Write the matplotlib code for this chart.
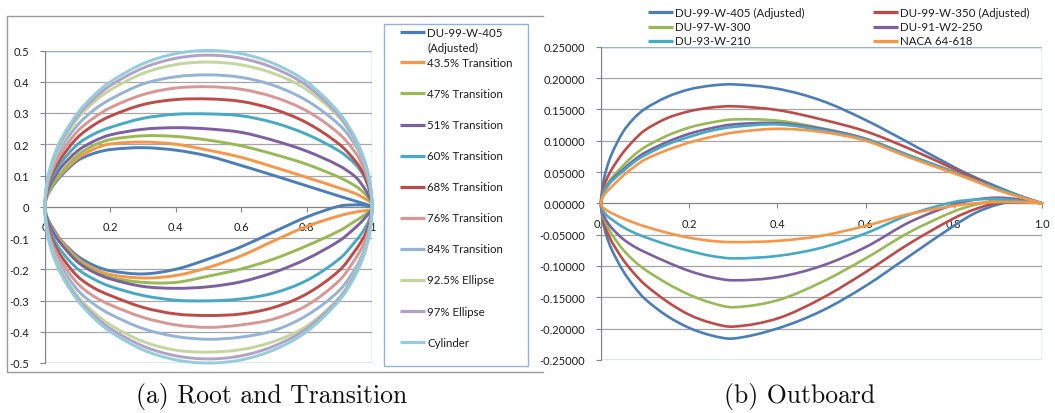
import matplotlib
matplotlib.use("Agg")
import matplotlib.pyplot as plt
import numpy as np
from matplotlib.patches import Rectangle, PathPatch
from matplotlib.path import Path

plt.rcParams['font.family'] = ['Lato', 'DejaVu Sans']

# ---------------- data: panel (a) Root and Transition ----------------
xa = [0, 0.0025, 0.01, 0.025, 0.05, 0.1, 0.15, 0.2, 0.3, 0.4, 0.5, 0.6, 0.7, 0.8, 0.9, 0.95, 0.975, 0.99, 0.9975, 1.0]

a_du405_up = [0, 0.02, 0.042, 0.068, 0.1, 0.148, 0.171, 0.183, 0.189, 0.181, 0.162, 0.132, 0.1, 0.067, 0.034, 0.018, 0.01, 0.005, 0.002, 0]
a_du405_lo = [0, -0.02, -0.042, -0.07, -0.108, -0.158, -0.188, -0.205, -0.215, -0.2, -0.167, -0.128, -0.08, -0.033, 0.002, 0.006, 0.005, 0.002, 0.001, 0]
t435_up = [0, 0.022, 0.045, 0.072, 0.105, 0.155, 0.185, 0.201, 0.207, 0.2, 0.181, 0.158, 0.127, 0.094, 0.06, 0.042, 0.028, 0.018, 0.013, 0.01]
t435_lo = [0, -0.022, -0.045, -0.075, -0.11, -0.165, -0.198, -0.217, -0.228, -0.22, -0.194, -0.157, -0.109, -0.063, -0.029, -0.017, -0.013, -0.011, -0.01, -0.01]
t47_up = [0, 0.024, 0.047, 0.075, 0.11, 0.165, 0.197, 0.215, 0.227, 0.225, 0.213, 0.195, 0.168, 0.136, 0.094, 0.066, 0.045, 0.027, 0.015, 0.01]
t47_lo = [0, -0.023, -0.046, -0.077, -0.115, -0.171, -0.205, -0.226, -0.242, -0.242, -0.222, -0.199, -0.167, -0.125, -0.077, -0.045, -0.028, -0.016, -0.011, -0.01]
t51_up = [0, 0.028, 0.056, 0.088, 0.127, 0.179, 0.21, 0.23, 0.248, 0.253, 0.249, 0.238, 0.212, 0.178, 0.131, 0.095, 0.062, 0.035, 0.018, 0.01]
t51_lo = [0, -0.025, -0.05, -0.082, -0.12, -0.177, -0.21, -0.231, -0.255, -0.261, -0.256, -0.24, -0.21, -0.167, -0.109, -0.066, -0.04, -0.022, -0.013, -0.01]
t60_up = [0, 0.032, 0.064, 0.1, 0.142, 0.2, 0.233, 0.254, 0.283, 0.296, 0.297, 0.291, 0.269, 0.232, 0.178, 0.135, 0.098, 0.058, 0.028, 0.01]
t60_lo = [0, -0.032, -0.064, -0.1, -0.142, -0.199, -0.232, -0.255, -0.284, -0.299, -0.301, -0.295, -0.276, -0.236, -0.167, -0.11, -0.075, -0.045, -0.024, -0.01]
t68_up = [0, 0.036, 0.071, 0.112, 0.157, 0.222, 0.262, 0.29, 0.327, 0.343, 0.345, 0.337, 0.312, 0.269, 0.2, 0.145, 0.104, 0.064, 0.032, 0.01]
t68_lo = [0, -0.036, -0.072, -0.113, -0.159, -0.223, -0.26, -0.284, -0.322, -0.343, -0.348, -0.343, -0.322, -0.279, -0.204, -0.138, -0.097, -0.06, -0.03, -0.01]
t76_up = [0, 0.04, 0.079, 0.124, 0.173, 0.242, 0.285, 0.317, 0.359, 0.38, 0.384, 0.376, 0.351, 0.307, 0.233, 0.172, 0.123, 0.076, 0.038, 0.01]
t76_lo = [0, -0.04, -0.079, -0.125, -0.175, -0.246, -0.287, -0.314, -0.354, -0.378, -0.386, -0.378, -0.359, -0.316, -0.236, -0.165, -0.118, -0.074, -0.036, -0.01]
t84_up = [0, 0.045, 0.088, 0.137, 0.19, 0.262, 0.31, 0.344, 0.393, 0.416, 0.422, 0.414, 0.388, 0.34, 0.262, 0.195, 0.14, 0.087, 0.043, 0.01]
t84_lo = [0, -0.045, -0.088, -0.138, -0.192, -0.267, -0.312, -0.344, -0.39, -0.415, -0.424, -0.417, -0.396, -0.348, -0.268, -0.195, -0.14, -0.087, -0.043, -0.01]
e925_up = [0, 0.046, 0.092, 0.144, 0.202, 0.283, 0.335, 0.374, 0.427, 0.455, 0.463, 0.454, 0.426, 0.375, 0.285, 0.205, 0.146, 0.092, 0.046, 0]
e925_lo = [0, -0.046, -0.092, -0.145, -0.204, -0.287, -0.338, -0.378, -0.431, -0.459, -0.465, -0.457, -0.431, -0.382, -0.29, -0.207, -0.147, -0.093, -0.046, 0]
e97_up = [0, 0.048, 0.097, 0.151, 0.211, 0.291, 0.346, 0.388, 0.444, 0.475, 0.485, 0.475, 0.444, 0.388, 0.291, 0.211, 0.151, 0.097, 0.048, 0]
e97_lo = [0, -0.048, -0.097, -0.152, -0.212, -0.293, -0.348, -0.39, -0.446, -0.477, -0.487, -0.477, -0.446, -0.39, -0.293, -0.212, -0.152, -0.097, -0.048, 0]
cyl_up = [0, 0.05, 0.0995, 0.156, 0.218, 0.3, 0.357, 0.4, 0.458, 0.49, 0.5, 0.49, 0.458, 0.4, 0.3, 0.218, 0.156, 0.0995, 0.05, 0]
cyl_lo = [0, -0.05, -0.0995, -0.156, -0.218, -0.3, -0.357, -0.4, -0.458, -0.49, -0.5, -0.49, -0.458, -0.4, -0.3, -0.218, -0.156, -0.0995, -0.05, 0]

names_a = ["DU-99-W-405\n(Adjusted)", "43.5% Transition", "47% Transition", "51% Transition",
           "60% Transition", "68% Transition", "76% Transition", "84% Transition",
           "92.5% Ellipse", "97% Ellipse", "Cylinder"]
colors_a = ["#4a7ebb", "#f79646", "#98b954", "#7d60a0", "#46aac5", "#be4b48",
            "#d99694", "#95b3d7", "#c3d69b", "#b3a2c7", "#93cddd"]
upper_a = [a_du405_up, t435_up, t47_up, t51_up, t60_up, t68_up, t76_up, t84_up, e925_up, e97_up, cyl_up]
lower_a = [a_du405_lo, t435_lo, t47_lo, t51_lo, t60_lo, t68_lo, t76_lo, t84_lo, e925_lo, e97_lo, cyl_lo]

yticks_a = [-0.5, -0.4, -0.3, -0.2, -0.1, 0, 0.1, 0.2, 0.3, 0.4, 0.5]
yticklabels_a = ["-0.5", "-0.4", "-0.3", "-0.2", "-0.1", "0", "0.1", "0.2", "0.3", "0.4", "0.5"]
xticks_a = [0, 0.2, 0.4, 0.6, 0.8, 1.0]
xticklabels_a = ["0", "0.2", "0.4", "0.6", "0.8", "1"]

# ---------------- data: panel (b) Outboard ----------------
xb = [0, 0.005, 0.0125, 0.025, 0.05, 0.075, 0.1, 0.15, 0.2, 0.25, 0.3, 0.4, 0.5, 0.6, 0.7, 0.8, 0.85, 0.9, 0.95, 1.0]

du405_up = [0, 0.032, 0.055, 0.08, 0.114, 0.136, 0.151, 0.17, 0.182, 0.188, 0.19, 0.183, 0.164, 0.133, 0.096, 0.058, 0.041, 0.026, 0.012, 0]
du405_lo = [0, -0.03, -0.052, -0.075, -0.108, -0.133, -0.153, -0.18, -0.199, -0.211, -0.216, -0.2, -0.172, -0.132, -0.084, -0.036, -0.015, -0.002, 0.004, 0]
du350_up = [0, 0.022, 0.038, 0.055, 0.081, 0.101, 0.117, 0.136, 0.147, 0.153, 0.155, 0.149, 0.134, 0.115, 0.087, 0.055, 0.039, 0.023, 0.011, 0]
du350_lo = [0, -0.025, -0.043, -0.062, -0.09, -0.112, -0.13, -0.157, -0.178, -0.191, -0.197, -0.184, -0.152, -0.11, -0.064, -0.024, -0.009, 0.001, 0.004, 0]
du300_up = [0, 0.017, 0.028, 0.041, 0.06, 0.077, 0.09, 0.108, 0.121, 0.129, 0.134, 0.132, 0.12, 0.103, 0.076, 0.05, 0.036, 0.023, 0.011, 0]
du300_lo = [0, -0.02, -0.034, -0.05, -0.074, -0.092, -0.106, -0.128, -0.146, -0.159, -0.166, -0.155, -0.126, -0.088, -0.046, -0.013, -0.002, 0.005, 0.005, 0]
du250_up = [0, 0.016, 0.026, 0.038, 0.054, 0.069, 0.081, 0.098, 0.111, 0.12, 0.126, 0.128, 0.119, 0.103, 0.076, 0.05, 0.036, 0.023, 0.011, 0]
du250_lo = [0, -0.017, -0.028, -0.04, -0.057, -0.069, -0.078, -0.094, -0.108, -0.118, -0.123, -0.118, -0.1, -0.07, -0.03, -0.002, 0.006, 0.009, 0.006, 0]
du210_up = [0, 0.015, 0.025, 0.036, 0.051, 0.066, 0.077, 0.094, 0.106, 0.116, 0.122, 0.126, 0.117, 0.102, 0.076, 0.05, 0.036, 0.023, 0.011, 0]
du210_lo = [0, -0.012, -0.019, -0.026, -0.038, -0.047, -0.054, -0.066, -0.076, -0.084, -0.088, -0.084, -0.071, -0.048, -0.018, 0.002, 0.006, 0.007, 0.004, 0]
naca_up = [0, 0.011, 0.018, 0.027, 0.044, 0.058, 0.07, 0.085, 0.097, 0.106, 0.113, 0.119, 0.114, 0.1, 0.073, 0.048, 0.035, 0.021, 0.01, 0]
naca_lo = [0, -0.007, -0.011, -0.016, -0.024, -0.031, -0.037, -0.047, -0.055, -0.06, -0.062, -0.06, -0.052, -0.036, -0.017, -0.004, 0.0, 0.002, 0.002, 0]

names_b = ["DU-99-W-405 (Adjusted)", "DU-99-W-350 (Adjusted)", "DU-97-W-300",
           "DU-91-W2-250", "DU-93-W-210", "NACA 64-618"]
colors_b = ["#4a7ebb", "#be4b48", "#98b954", "#7d60a0", "#46aac5", "#f79646"]
upper_b = [du405_up, du350_up, du300_up, du250_up, du210_up, naca_up]
lower_b = [du405_lo, du350_lo, du300_lo, du250_lo, du210_lo, naca_lo]

yticks_b = [-0.25, -0.2, -0.15, -0.1, -0.05, 0, 0.05, 0.1, 0.15, 0.2, 0.25]
yticklabels_b = ["-0.25000", "-0.20000", "-0.15000", "-0.10000", "-0.05000", "0.00000",
                 "0.05000", "0.10000", "0.15000", "0.20000", "0.25000"]
xticks_b = [0, 0.2, 0.4, 0.6, 0.8, 1.0]
xticklabels_b = ["0.0", "0.2", "0.4", "0.6", "0.8", "1.0"]

captions = ["(a) Root and Transition", "(b) Outboard"]

# ---------------- figure ----------------
W, H = 1055, 414
fig = plt.figure(figsize=(W / 100, H / 100), dpi=100)


def fx(px):
    return px / W


def fy(py):
    return 1 - py / H


BORDER = "#95b3d7"
AXIS = "#868686"
GRID = "#a6a6a6"
TXT = "#1e1e1e"


def style(ax, yt, ytl, xt, xtl, ylim, ypad):
    ax.set_xlim(0, 1)
    ax.set_ylim(*ylim)
    ax.set_yticks(yt)
    ax.set_yticklabels(ytl)
    ax.set_xticks(xt)
    ax.set_xticklabels(xtl)
    ax.grid(axis="y", color=GRID, lw=0.9)
    ax.set_axisbelow(True)
    for s in ["top", "right"]:
        ax.spines[s].set_visible(False)
    ax.spines["bottom"].set_position(("data", 0))
    ax.spines["bottom"].set_color(AXIS)
    ax.spines["left"].set_color(AXIS)
    ax.add_patch(Rectangle((0, 0), 1, 1, transform=ax.transAxes, fill=False,
                           ec=BORDER, lw=1.0, zorder=1))
    ax.tick_params(axis="both", direction="out", length=3.5, width=0.8, color=AXIS,
                   labelsize=8, labelcolor=TXT)
    ax.tick_params(axis="y", pad=ypad)
    ax.tick_params(axis="x", pad=7)


def smooth_outline(ax, x, up, lo, color, lw):
    """Smoothed line (like a spreadsheet 'smoothed line') through the read points,
    running from the trailing edge over the upper side, round the nose and back
    along the lower side. Bezier control points come from the neighbouring points."""
    px = np.concatenate([np.asarray(x)[::-1], np.asarray(x)[1:]])
    py = np.concatenate([np.asarray(up)[::-1], np.asarray(lo)[1:]])
    pts = ax.transData.transform(np.column_stack([px, py]))
    n = len(pts)
    d = np.linalg.norm(np.diff(pts, axis=0), axis=1)
    d[d == 0] = 1e-9
    tang = np.zeros_like(pts)
    tang[0] = (pts[1] - pts[0]) / d[0]
    tang[-1] = (pts[-1] - pts[-2]) / d[-1]
    for i in range(1, n - 1):
        tang[i] = (pts[i + 1] - pts[i - 1]) / (d[i - 1] + d[i])
    verts = [pts[0]]
    codes = [Path.MOVETO]
    for i in range(n - 1):
        c1 = pts[i] + tang[i] * d[i] / 3.0
        c2 = pts[i + 1] - tang[i + 1] * d[i] / 3.0
        verts += [c1, c2, pts[i + 1]]
        codes += [Path.CURVE4] * 3
    verts = ax.transData.inverted().transform(np.array(verts))
    patch = PathPatch(Path(verts, codes), fill=False, ec=color, lw=lw, zorder=3,
                      joinstyle="round", capstyle="round")
    patch.set_clip_on(False)
    ax.add_patch(patch)


ax1 = fig.add_axes([fx(45), fy(364), fx(372) - fx(45), fy(51.5) - fy(364)])
style(ax1, yticks_a, yticklabels_a, xticks_a, xticklabels_a, (-0.5, 0.5), 8)
for up, lo, c in zip(upper_a, lower_a, colors_a):
    smooth_outline(ax1, xa, up, lo, c, 2.1)

ax2 = fig.add_axes([fx(601), fy(360.8), fx(1042) - fx(601), fy(47.8) - fy(360.8)])
style(ax2, yticks_b, yticklabels_b, xticks_b, xticklabels_b, (-0.25, 0.25), 8)
for up, lo, c in zip(upper_b, lower_b, colors_b):
    smooth_outline(ax2, xb, up, lo, c, 1.9)

# overlay in pixel coordinates for frame, legends, captions
ov = fig.add_axes([0, 0, 1, 1], facecolor="none")
ov.set_xlim(0, W)
ov.set_ylim(H, 0)
ov.axis("off")

# outer chart frame of panel (a)
ov.plot([543, 7, 7, 543], [17, 17, 373, 373], color="#9a9a9a", lw=1.0)

# legend of panel (a)
ov.add_patch(Rectangle((384, 25), 143.5, 342, fill=False, ec=BORDER, lw=1.0))
for i, (name, c) in enumerate(zip(names_a, colors_a)):
    y0 = 33.3 if i == 0 else 63.3 + (i - 1) * 31.1
    ov.plot([400, 425], [y0, y0], color=c, lw=2.3, solid_capstyle="butt")
    for k, line in enumerate(name.split("\n")):
        ov.text(427, y0 + k * 15, line, fontsize=8.3, color=TXT, va="center", ha="left")

# legend of panel (b)
col_x = [648, 873]
row_y = [13.3, 27.5, 41.7]
for i, (name, c) in enumerate(zip(names_b, colors_b)):
    cx = col_x[i % 2]
    ry = row_y[i // 2]
    ov.plot([cx, cx + 25], [ry, ry], color=c, lw=2.3, solid_capstyle="butt")
    ov.text(cx + 27, ry, name, fontsize=8.3, color=TXT, va="center", ha="left")

# captions
ov.text(271.5, 397, captions[0], fontsize=18.5, family="cmr10", ha="center", va="center", color="#111111")
ov.text(800, 397, captions[1], fontsize=18.5, family="cmr10", ha="center", va="center", color="#111111")

fig.savefig("out.png", dpi=100)
